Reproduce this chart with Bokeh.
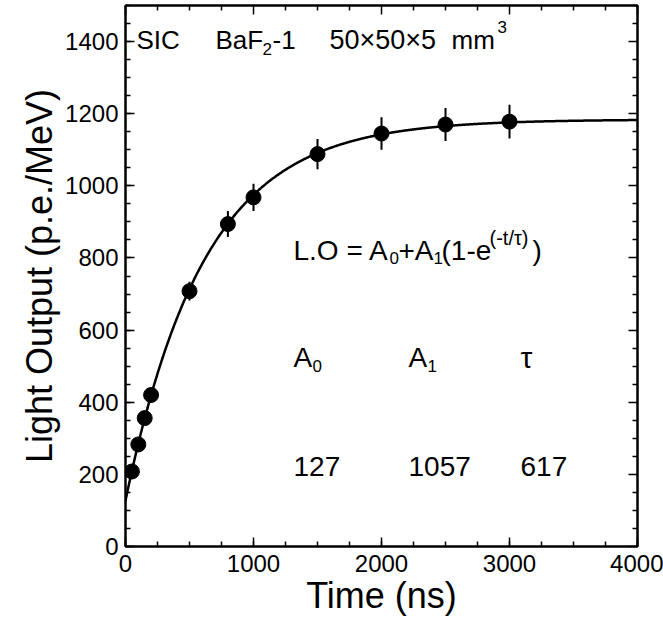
import numpy as np
from bokeh.plotting import figure
from bokeh.models import ColumnDataSource, SingleIntervalTicker, FixedTicker, LinearAxis, Label
from bokeh.embed import file_html
from bokeh.resources import INLINE

# ---- data ----
time_ns = [50, 100, 150, 200, 500, 800, 1000, 1500, 2000, 2500, 3000]
light_output = [208, 283, 356, 420, 708, 894, 968, 1088, 1145, 1170, 1178]
errors = [8, 11, 14, 17, 26, 36, 38, 42, 45, 46, 47]
A0, A1, TAU = 127, 1057, 617
x_ticks_interval = 1000
x_minor_interval = 250
y_ticks_interval = 200
y_minor_interval = 50
X_MAX, Y_MAX = 4000, 1500

FONT = "Liberation Sans"

lo = [v - e for v, e in zip(light_output, errors)]
hi = [v + e for v, e in zip(light_output, errors)]
src = ColumnDataSource(dict(t=time_ns, y=light_output, lo=lo, hi=hi))

t_fit = np.linspace(0, X_MAX, 801)
y_fit = A0 + A1 * (1 - np.exp(-t_fit / TAU))

p = figure(width=663, height=627, x_range=(0, X_MAX), y_range=(0, Y_MAX),
           output_backend="svg", toolbar_location=None,
           min_border_left=125, min_border_right=26, min_border_top=5, min_border_bottom=81)
p.xgrid.visible = False
p.ygrid.visible = False
p.outline_line_color = "black"
p.outline_line_width = 2
p.background_fill_color = "white"
p.border_fill_color = "white"

def style_axis(ax):
    ax.axis_line_width = 2
    ax.major_tick_in = 9
    ax.major_tick_out = 0
    ax.minor_tick_in = 5
    ax.minor_tick_out = 0
    ax.major_tick_line_width = 1.5
    ax.minor_tick_line_width = 1.5
    ax.major_label_text_font = FONT
    ax.major_label_text_color = "black"
    ax.major_label_text_font_size = "24px"
    ax.axis_label_text_font = FONT
    ax.axis_label_text_font_style = "normal"
    ax.axis_label_text_color = "black"
    ax.axis_label_text_font_size = "36px"

p.xaxis.ticker = SingleIntervalTicker(interval=x_ticks_interval, num_minor_ticks=4)
p.yaxis.ticker = SingleIntervalTicker(interval=y_ticks_interval, num_minor_ticks=4)
p.xaxis.axis_label = "Time (ns)"
p.yaxis.axis_label = "Light Output (p.e./MeV)"
style_axis(p.xaxis[0])
style_axis(p.yaxis[0])
p.xaxis.major_label_standoff = 8
p.yaxis.major_label_standoff = 7
p.xaxis.axis_label_standoff = 0
p.yaxis.axis_label_standoff = 2

# mirrored tick marks on top / right (no labels): only minor ticks used
x_major = list(range(0, X_MAX + 1, x_ticks_interval))
x_minor = [v for v in range(0, X_MAX + 1, x_minor_interval) if v not in x_major]
y_major = list(range(0, Y_MAX + 1, y_ticks_interval))
y_minor = [v for v in range(0, Y_MAX + 1, y_minor_interval) if v not in y_major]

def tick_axis(minor, length, line):
    ax = LinearAxis(ticker=FixedTicker(ticks=[], minor_ticks=minor))
    ax.major_label_standoff = 0
    ax.major_tick_in = 0
    ax.major_tick_out = 0
    ax.minor_tick_in = length
    ax.minor_tick_out = 0
    ax.minor_tick_line_width = 1.5
    if line:
        ax.axis_line_width = 2
    else:
        ax.axis_line_color = None
    return ax

p.add_layout(tick_axis(x_major, 9, True), "above")
p.add_layout(tick_axis(x_minor, 5, False), "above")
p.add_layout(tick_axis(y_major, 9, True), "right")
p.add_layout(tick_axis(y_minor, 5, False), "right")

# fit curve
p.line(t_fit, y_fit, line_color="black", line_width=2.5)
# error bars
p.segment(x0="t", y0="lo", x1="t", y1="hi", source=src, line_color="black", line_width=2)
# points
p.scatter("t", "y", source=src, size=15, fill_color="black", line_color="black")

def lab(text, xoff, ybase, size, yoff=0):
    p.add_layout(Label(x=0, y=ybase, x_offset=xoff, y_offset=yoff, text=text,
                       text_font=FONT, text_font_size=f"{size}px", text_color="black",
                       text_align="left", text_baseline="alphabetic"))

# title annotation
yt = 1404
lab("SIC", 11, yt, 26)
lab("BaF", 90, yt, 26)
lab("2", 137, yt, 17, -9)
lab("-1", 147, yt, 26)
lab("50×50×5", 204, yt, 27)
lab("mm", 326, yt, 26)
lab("3", 372, yt, 17, 13)

# formula
yf = 821
lab("L.O = A", 168, yf, 28)
lab("0", 264, yf, 17, -8)
lab("+A", 273, yf, 28)
lab("1", 308, yf, 17, -8)
lab("(1-e", 316, yf, 28)
lab("(-t/τ)", 364, yf, 20, 12)
lab(")", 407, yf, 28)

# parameter names
ya = 524
lab("A", 168, ya, 28)
lab("0", 187, ya, 17, -8)
lab("A", 283, ya, 28)
lab("1", 302, ya, 17, -8)
lab("τ", 395, ya, 30)

# parameter values
yv = 222
lab(str(A0), 168, yv, 28)
lab(str(A1), 283, yv, 28)
lab(str(TAU), 395, yv, 28)

open("out.html", "w").write(file_html(p, INLINE))
